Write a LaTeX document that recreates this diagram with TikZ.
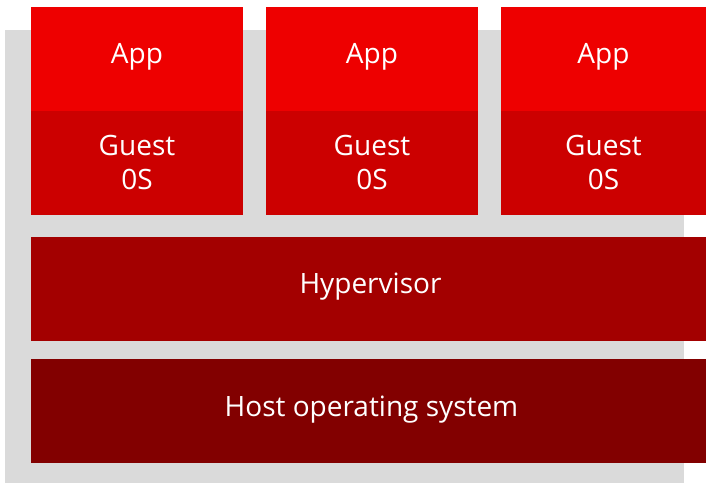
\documentclass[tikz,border=0pt]{standalone}
\usepackage{fontspec}
\setmainfont{Open Sans}
\definecolor{bggray}{HTML}{DADADA}
\definecolor{appred}{HTML}{EE0000}
\definecolor{guestred}{HTML}{CC0000}
\definecolor{hyperred}{HTML}{A30000}
\definecolor{hostred}{HTML}{820000}
\tikzset{
  lbl/.style={text=white, font=\fontsize{28}{32}\selectfont, anchor=base, inner sep=0pt}
}
\begin{document}
\begin{tikzpicture}[x=1pt,y=-1pt]
\useasboundingbox (0,0) rectangle (706,483);
\fill[bggray] (5,30) rectangle (684,483);
% app / guest columns
\foreach \xa/\xb/\n in {31/243/1, 266/478/2, 501/706/3}{
  \fill[appred] (\xa,7) rectangle (\xb,111);
  \fill[guestred] (\xa,111) rectangle (\xb,215);
  \node[lbl] (app\n) at ({(\xa+\xb)/2},63) {App};
  \node[lbl] (guest\n) at ({(\xa+\xb)/2},155) {Guest};
  \node[lbl] (os\n) at ({(\xa+\xb)/2},189) {0S};
}
\fill[hyperred] (31,237) rectangle (706,341);
\node[lbl] (hyper) at (370.5,293) {Hypervisor};
\fill[hostred] (31,359) rectangle (706,463);
\node[lbl] (host) at (371.5,416) {Host operating system};
\end{tikzpicture}
\end{document}
